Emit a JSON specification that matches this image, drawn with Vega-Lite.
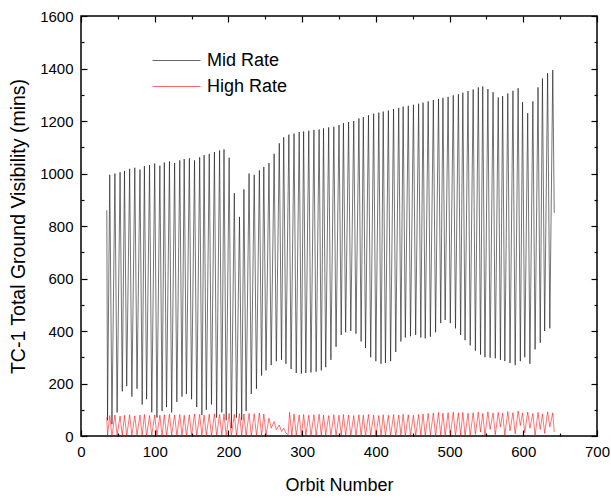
{
"$schema":"https://vega.github.io/schema/vega-lite/v6.json",
"width":516,"height":420,
"autosize":"none",
"padding":{"left":81,"top":16,"right":14,"bottom":63},
"background":"white",
"config":{"font":"Liberation Sans","view":{"stroke":"black","strokeWidth":1.5},
"axis":{"grid":false,"domain":false,"tickColor":"black","tickWidth":1.2,"labelColor":"black","titleColor":"black","labelFont":"Liberation Sans","titleFont":"Liberation Sans","titleFontWeight":"normal","labelFlush":false,"labelOverlap":false}},
"data":{"values":[
{"series":"Mid Rate","orbit":35,"value":860},{"series":"Mid Rate","orbit":36,"value":60},
{"series":"Mid Rate","orbit":39,"value":995},{"series":"Mid Rate","orbit":42,"value":45},
{"series":"Mid Rate","orbit":46,"value":1000},{"series":"Mid Rate","orbit":49,"value":90},
{"series":"Mid Rate","orbit":53,"value":1005},{"series":"Mid Rate","orbit":56,"value":170},
{"series":"Mid Rate","orbit":59,"value":1010},{"series":"Mid Rate","orbit":62,"value":190},
{"series":"Mid Rate","orbit":66,"value":1018},{"series":"Mid Rate","orbit":69,"value":150},
{"series":"Mid Rate","orbit":73,"value":1022},{"series":"Mid Rate","orbit":76,"value":180},
{"series":"Mid Rate","orbit":80,"value":1015},{"series":"Mid Rate","orbit":83,"value":120},
{"series":"Mid Rate","orbit":86,"value":1028},{"series":"Mid Rate","orbit":89,"value":140},
{"series":"Mid Rate","orbit":93,"value":1032},{"series":"Mid Rate","orbit":96,"value":90},
{"series":"Mid Rate","orbit":100,"value":1038},{"series":"Mid Rate","orbit":103,"value":70},
{"series":"Mid Rate","orbit":107,"value":1030},{"series":"Mid Rate","orbit":110,"value":95},
{"series":"Mid Rate","orbit":113,"value":1042},{"series":"Mid Rate","orbit":116,"value":110},
{"series":"Mid Rate","orbit":120,"value":1046},{"series":"Mid Rate","orbit":123,"value":90},
{"series":"Mid Rate","orbit":127,"value":1040},{"series":"Mid Rate","orbit":130,"value":130},
{"series":"Mid Rate","orbit":134,"value":1050},{"series":"Mid Rate","orbit":137,"value":150},
{"series":"Mid Rate","orbit":140,"value":1055},{"series":"Mid Rate","orbit":143,"value":160},
{"series":"Mid Rate","orbit":147,"value":1058},{"series":"Mid Rate","orbit":150,"value":140},
{"series":"Mid Rate","orbit":154,"value":1050},{"series":"Mid Rate","orbit":157,"value":110},
{"series":"Mid Rate","orbit":161,"value":1062},{"series":"Mid Rate","orbit":164,"value":80},
{"series":"Mid Rate","orbit":167,"value":1070},{"series":"Mid Rate","orbit":170,"value":100},
{"series":"Mid Rate","orbit":174,"value":1075},{"series":"Mid Rate","orbit":177,"value":120},
{"series":"Mid Rate","orbit":181,"value":1082},{"series":"Mid Rate","orbit":184,"value":70},
{"series":"Mid Rate","orbit":188,"value":1088},{"series":"Mid Rate","orbit":191,"value":90},
{"series":"Mid Rate","orbit":194,"value":1092},{"series":"Mid Rate","orbit":197,"value":60},
{"series":"Mid Rate","orbit":201,"value":1060},{"series":"Mid Rate","orbit":204,"value":30},
{"series":"Mid Rate","orbit":208,"value":925},{"series":"Mid Rate","orbit":211,"value":70},
{"series":"Mid Rate","orbit":215,"value":835},{"series":"Mid Rate","orbit":218,"value":60},
{"series":"Mid Rate","orbit":221,"value":940},{"series":"Mid Rate","orbit":224,"value":95},
{"series":"Mid Rate","orbit":228,"value":1000},{"series":"Mid Rate","orbit":231,"value":160},
{"series":"Mid Rate","orbit":235,"value":995},{"series":"Mid Rate","orbit":238,"value":180},
{"series":"Mid Rate","orbit":242,"value":1012},{"series":"Mid Rate","orbit":245,"value":230},
{"series":"Mid Rate","orbit":248,"value":1025},{"series":"Mid Rate","orbit":251,"value":250},
{"series":"Mid Rate","orbit":255,"value":1040},{"series":"Mid Rate","orbit":258,"value":270},
{"series":"Mid Rate","orbit":262,"value":1075},{"series":"Mid Rate","orbit":265,"value":285},
{"series":"Mid Rate","orbit":269,"value":1115},{"series":"Mid Rate","orbit":272,"value":290},
{"series":"Mid Rate","orbit":275,"value":1138},{"series":"Mid Rate","orbit":278,"value":275},
{"series":"Mid Rate","orbit":282,"value":1148},{"series":"Mid Rate","orbit":285,"value":255},
{"series":"Mid Rate","orbit":289,"value":1152},{"series":"Mid Rate","orbit":292,"value":240},
{"series":"Mid Rate","orbit":296,"value":1158},{"series":"Mid Rate","orbit":299,"value":238},
{"series":"Mid Rate","orbit":302,"value":1160},{"series":"Mid Rate","orbit":305,"value":240},
{"series":"Mid Rate","orbit":309,"value":1163},{"series":"Mid Rate","orbit":312,"value":242},
{"series":"Mid Rate","orbit":316,"value":1166},{"series":"Mid Rate","orbit":319,"value":245},
{"series":"Mid Rate","orbit":323,"value":1168},{"series":"Mid Rate","orbit":326,"value":250},
{"series":"Mid Rate","orbit":329,"value":1172},{"series":"Mid Rate","orbit":332,"value":262},
{"series":"Mid Rate","orbit":336,"value":1176},{"series":"Mid Rate","orbit":339,"value":290},
{"series":"Mid Rate","orbit":343,"value":1178},{"series":"Mid Rate","orbit":346,"value":340},
{"series":"Mid Rate","orbit":350,"value":1185},{"series":"Mid Rate","orbit":353,"value":385},
{"series":"Mid Rate","orbit":356,"value":1192},{"series":"Mid Rate","orbit":359,"value":395},
{"series":"Mid Rate","orbit":363,"value":1196},{"series":"Mid Rate","orbit":366,"value":400},
{"series":"Mid Rate","orbit":370,"value":1200},{"series":"Mid Rate","orbit":373,"value":390},
{"series":"Mid Rate","orbit":377,"value":1210},{"series":"Mid Rate","orbit":380,"value":360},
{"series":"Mid Rate","orbit":383,"value":1215},{"series":"Mid Rate","orbit":386,"value":335},
{"series":"Mid Rate","orbit":390,"value":1222},{"series":"Mid Rate","orbit":393,"value":300},
{"series":"Mid Rate","orbit":397,"value":1228},{"series":"Mid Rate","orbit":400,"value":285},
{"series":"Mid Rate","orbit":404,"value":1232},{"series":"Mid Rate","orbit":407,"value":275},
{"series":"Mid Rate","orbit":410,"value":1236},{"series":"Mid Rate","orbit":413,"value":278},
{"series":"Mid Rate","orbit":417,"value":1240},{"series":"Mid Rate","orbit":420,"value":285},
{"series":"Mid Rate","orbit":424,"value":1246},{"series":"Mid Rate","orbit":427,"value":320},
{"series":"Mid Rate","orbit":431,"value":1250},{"series":"Mid Rate","orbit":434,"value":360},
{"series":"Mid Rate","orbit":437,"value":1255},{"series":"Mid Rate","orbit":440,"value":375},
{"series":"Mid Rate","orbit":444,"value":1258},{"series":"Mid Rate","orbit":447,"value":380},
{"series":"Mid Rate","orbit":451,"value":1262},{"series":"Mid Rate","orbit":454,"value":385},
{"series":"Mid Rate","orbit":458,"value":1266},{"series":"Mid Rate","orbit":461,"value":375},
{"series":"Mid Rate","orbit":464,"value":1270},{"series":"Mid Rate","orbit":467,"value":372},
{"series":"Mid Rate","orbit":471,"value":1275},{"series":"Mid Rate","orbit":474,"value":378},
{"series":"Mid Rate","orbit":478,"value":1280},{"series":"Mid Rate","orbit":481,"value":395},
{"series":"Mid Rate","orbit":485,"value":1284},{"series":"Mid Rate","orbit":488,"value":430},
{"series":"Mid Rate","orbit":491,"value":1288},{"series":"Mid Rate","orbit":494,"value":442},
{"series":"Mid Rate","orbit":498,"value":1292},{"series":"Mid Rate","orbit":501,"value":430},
{"series":"Mid Rate","orbit":505,"value":1298},{"series":"Mid Rate","orbit":508,"value":410},
{"series":"Mid Rate","orbit":512,"value":1302},{"series":"Mid Rate","orbit":515,"value":385},
{"series":"Mid Rate","orbit":518,"value":1308},{"series":"Mid Rate","orbit":521,"value":365},
{"series":"Mid Rate","orbit":525,"value":1314},{"series":"Mid Rate","orbit":528,"value":345},
{"series":"Mid Rate","orbit":532,"value":1320},{"series":"Mid Rate","orbit":535,"value":325},
{"series":"Mid Rate","orbit":539,"value":1328},{"series":"Mid Rate","orbit":542,"value":310},
{"series":"Mid Rate","orbit":545,"value":1332},{"series":"Mid Rate","orbit":548,"value":300},
{"series":"Mid Rate","orbit":552,"value":1322},{"series":"Mid Rate","orbit":555,"value":298},
{"series":"Mid Rate","orbit":559,"value":1310},{"series":"Mid Rate","orbit":562,"value":296},
{"series":"Mid Rate","orbit":566,"value":1290},{"series":"Mid Rate","orbit":569,"value":290},
{"series":"Mid Rate","orbit":572,"value":1295},{"series":"Mid Rate","orbit":575,"value":285},
{"series":"Mid Rate","orbit":579,"value":1305},{"series":"Mid Rate","orbit":582,"value":278},
{"series":"Mid Rate","orbit":586,"value":1315},{"series":"Mid Rate","orbit":589,"value":270},
{"series":"Mid Rate","orbit":593,"value":1325},{"series":"Mid Rate","orbit":596,"value":285},
{"series":"Mid Rate","orbit":599,"value":1272},{"series":"Mid Rate","orbit":602,"value":300},
{"series":"Mid Rate","orbit":606,"value":1230},{"series":"Mid Rate","orbit":609,"value":275},
{"series":"Mid Rate","orbit":613,"value":1275},{"series":"Mid Rate","orbit":616,"value":330},
{"series":"Mid Rate","orbit":620,"value":1328},{"series":"Mid Rate","orbit":623,"value":355},
{"series":"Mid Rate","orbit":626,"value":1362},{"series":"Mid Rate","orbit":629,"value":400},
{"series":"Mid Rate","orbit":633,"value":1382},{"series":"Mid Rate","orbit":636,"value":410},
{"series":"Mid Rate","orbit":640,"value":1394},{"series":"Mid Rate","orbit":642,"value":850},
{"series":"High Rate","orbit":35,"value":72},{"series":"High Rate","orbit":36,"value":2},
{"series":"High Rate","orbit":39,"value":78},{"series":"High Rate","orbit":42,"value":0},
{"series":"High Rate","orbit":46,"value":80},{"series":"High Rate","orbit":49,"value":3},
{"series":"High Rate","orbit":53,"value":76},{"series":"High Rate","orbit":56,"value":1},
{"series":"High Rate","orbit":59,"value":79},{"series":"High Rate","orbit":62,"value":0},
{"series":"High Rate","orbit":66,"value":81},{"series":"High Rate","orbit":69,"value":2},
{"series":"High Rate","orbit":73,"value":77},{"series":"High Rate","orbit":76,"value":4},
{"series":"High Rate","orbit":80,"value":80},{"series":"High Rate","orbit":83,"value":1},
{"series":"High Rate","orbit":86,"value":82},{"series":"High Rate","orbit":89,"value":0},
{"series":"High Rate","orbit":93,"value":78},{"series":"High Rate","orbit":96,"value":3},
{"series":"High Rate","orbit":100,"value":80},{"series":"High Rate","orbit":103,"value":2},
{"series":"High Rate","orbit":107,"value":79},{"series":"High Rate","orbit":110,"value":0},
{"series":"High Rate","orbit":113,"value":81},{"series":"High Rate","orbit":116,"value":1},
{"series":"High Rate","orbit":120,"value":83},{"series":"High Rate","orbit":123,"value":3},
{"series":"High Rate","orbit":127,"value":80},{"series":"High Rate","orbit":130,"value":0},
{"series":"High Rate","orbit":134,"value":82},{"series":"High Rate","orbit":137,"value":2},
{"series":"High Rate","orbit":140,"value":79},{"series":"High Rate","orbit":143,"value":1},
{"series":"High Rate","orbit":147,"value":81},{"series":"High Rate","orbit":150,"value":0},
{"series":"High Rate","orbit":154,"value":84},{"series":"High Rate","orbit":157,"value":3},
{"series":"High Rate","orbit":161,"value":82},{"series":"High Rate","orbit":164,"value":2},
{"series":"High Rate","orbit":167,"value":80},{"series":"High Rate","orbit":170,"value":1},
{"series":"High Rate","orbit":174,"value":83},{"series":"High Rate","orbit":177,"value":0},
{"series":"High Rate","orbit":181,"value":85},{"series":"High Rate","orbit":184,"value":2},
{"series":"High Rate","orbit":188,"value":82},{"series":"High Rate","orbit":191,"value":4},
{"series":"High Rate","orbit":194,"value":84},{"series":"High Rate","orbit":197,"value":1},
{"series":"High Rate","orbit":201,"value":86},{"series":"High Rate","orbit":204,"value":0},
{"series":"High Rate","orbit":208,"value":83},{"series":"High Rate","orbit":211,"value":3},
{"series":"High Rate","orbit":215,"value":85},{"series":"High Rate","orbit":218,"value":2},
{"series":"High Rate","orbit":221,"value":84},{"series":"High Rate","orbit":224,"value":1},
{"series":"High Rate","orbit":228,"value":86},{"series":"High Rate","orbit":231,"value":0},
{"series":"High Rate","orbit":235,"value":85},{"series":"High Rate","orbit":238,"value":2},
{"series":"High Rate","orbit":242,"value":87},{"series":"High Rate","orbit":245,"value":1},
{"series":"High Rate","orbit":248,"value":84},{"series":"High Rate","orbit":251,"value":3},
{"series":"High Rate","orbit":255,"value":68},{"series":"High Rate","orbit":258,"value":30},
{"series":"High Rate","orbit":262,"value":55},{"series":"High Rate","orbit":265,"value":24},
{"series":"High Rate","orbit":269,"value":42},{"series":"High Rate","orbit":272,"value":17},
{"series":"High Rate","orbit":275,"value":30},{"series":"High Rate","orbit":278,"value":11},
{"series":"High Rate","orbit":281,"value":5},
{"series":"High Rate","orbit":283,"value":90},{"series":"High Rate","orbit":286,"value":1},
{"series":"High Rate","orbit":289,"value":84},{"series":"High Rate","orbit":292,"value":2},
{"series":"High Rate","orbit":296,"value":80},{"series":"High Rate","orbit":299,"value":0},
{"series":"High Rate","orbit":302,"value":82},{"series":"High Rate","orbit":305,"value":3},
{"series":"High Rate","orbit":309,"value":79},{"series":"High Rate","orbit":312,"value":1},
{"series":"High Rate","orbit":316,"value":81},{"series":"High Rate","orbit":319,"value":0},
{"series":"High Rate","orbit":323,"value":83},{"series":"High Rate","orbit":326,"value":2},
{"series":"High Rate","orbit":329,"value":80},{"series":"High Rate","orbit":332,"value":4},
{"series":"High Rate","orbit":336,"value":78},{"series":"High Rate","orbit":339,"value":1},
{"series":"High Rate","orbit":343,"value":81},{"series":"High Rate","orbit":346,"value":0},
{"series":"High Rate","orbit":350,"value":79},{"series":"High Rate","orbit":353,"value":2},
{"series":"High Rate","orbit":356,"value":82},{"series":"High Rate","orbit":359,"value":3},
{"series":"High Rate","orbit":363,"value":80},{"series":"High Rate","orbit":366,"value":0},
{"series":"High Rate","orbit":370,"value":78},{"series":"High Rate","orbit":373,"value":1},
{"series":"High Rate","orbit":377,"value":81},{"series":"High Rate","orbit":380,"value":2},
{"series":"High Rate","orbit":383,"value":79},{"series":"High Rate","orbit":386,"value":0},
{"series":"High Rate","orbit":390,"value":82},{"series":"High Rate","orbit":393,"value":3},
{"series":"High Rate","orbit":397,"value":80},{"series":"High Rate","orbit":400,"value":1},
{"series":"High Rate","orbit":404,"value":78},{"series":"High Rate","orbit":407,"value":0},
{"series":"High Rate","orbit":410,"value":81},{"series":"High Rate","orbit":413,"value":2},
{"series":"High Rate","orbit":417,"value":79},{"series":"High Rate","orbit":420,"value":1},
{"series":"High Rate","orbit":424,"value":82},{"series":"High Rate","orbit":427,"value":0},
{"series":"High Rate","orbit":431,"value":80},{"series":"High Rate","orbit":434,"value":3},
{"series":"High Rate","orbit":437,"value":83},{"series":"High Rate","orbit":440,"value":1},
{"series":"High Rate","orbit":444,"value":81},{"series":"High Rate","orbit":447,"value":2},
{"series":"High Rate","orbit":451,"value":79},{"series":"High Rate","orbit":454,"value":0},
{"series":"High Rate","orbit":458,"value":82},{"series":"High Rate","orbit":461,"value":2},
{"series":"High Rate","orbit":464,"value":84},{"series":"High Rate","orbit":467,"value":1},
{"series":"High Rate","orbit":471,"value":86},{"series":"High Rate","orbit":474,"value":3},
{"series":"High Rate","orbit":478,"value":88},{"series":"High Rate","orbit":481,"value":0},
{"series":"High Rate","orbit":485,"value":90},{"series":"High Rate","orbit":488,"value":2},
{"series":"High Rate","orbit":491,"value":87},{"series":"High Rate","orbit":494,"value":1},
{"series":"High Rate","orbit":498,"value":89},{"series":"High Rate","orbit":501,"value":4},
{"series":"High Rate","orbit":505,"value":91},{"series":"High Rate","orbit":508,"value":0},
{"series":"High Rate","orbit":512,"value":88},{"series":"High Rate","orbit":515,"value":3},
{"series":"High Rate","orbit":518,"value":90},{"series":"High Rate","orbit":521,"value":1},
{"series":"High Rate","orbit":525,"value":87},{"series":"High Rate","orbit":528,"value":2},
{"series":"High Rate","orbit":532,"value":89},{"series":"High Rate","orbit":535,"value":6},
{"series":"High Rate","orbit":539,"value":91},{"series":"High Rate","orbit":542,"value":15},
{"series":"High Rate","orbit":545,"value":86},{"series":"High Rate","orbit":548,"value":2},
{"series":"High Rate","orbit":552,"value":92},{"series":"High Rate","orbit":555,"value":25},
{"series":"High Rate","orbit":559,"value":88},{"series":"High Rate","orbit":562,"value":5},
{"series":"High Rate","orbit":566,"value":90},{"series":"High Rate","orbit":569,"value":35},
{"series":"High Rate","orbit":572,"value":87},{"series":"High Rate","orbit":575,"value":3},
{"series":"High Rate","orbit":579,"value":93},{"series":"High Rate","orbit":582,"value":20},
{"series":"High Rate","orbit":586,"value":89},{"series":"High Rate","orbit":589,"value":8},
{"series":"High Rate","orbit":593,"value":95},{"series":"High Rate","orbit":596,"value":40},
{"series":"High Rate","orbit":599,"value":88},{"series":"High Rate","orbit":602,"value":12},
{"series":"High Rate","orbit":606,"value":91},{"series":"High Rate","orbit":609,"value":30},
{"series":"High Rate","orbit":613,"value":86},{"series":"High Rate","orbit":616,"value":2},
{"series":"High Rate","orbit":620,"value":90},{"series":"High Rate","orbit":623,"value":25},
{"series":"High Rate","orbit":626,"value":84},{"series":"High Rate","orbit":629,"value":10},
{"series":"High Rate","orbit":633,"value":92},{"series":"High Rate","orbit":636,"value":35},
{"series":"High Rate","orbit":640,"value":88},{"series":"High Rate","orbit":642,"value":15}
]},
"resolve":{"axis":{"x":"independent","y":"independent"}},
"layer":[
{"transform":[{"filter":"datum.series === 'Mid Rate'"}],
"mark":{"type":"line","strokeWidth":0.55},
"encoding":{
"x":{"field":"orbit","type":"quantitative","scale":{"domain":[0,700],"nice":false,"zero":false},
"axis":{"orient":"bottom","values":[0,50,100,150,200,250,300,350,400,450,500,550,600,650,700],"labelExpr":"datum.value % 100 === 0 ? datum.label : ''","tickSize":{"condition":{"test":"datum.value % 100 === 0","value":-6},"value":-3},"labelPadding":14,"labelFontSize":15,"title":"Orbit Number","titleFontSize":18,"titlePadding":14}},
"y":{"field":"value","type":"quantitative","scale":{"domain":[0,1600],"nice":false},
"axis":{"orient":"left","values":[0,100,200,300,400,500,600,700,800,900,1000,1100,1200,1300,1400,1500,1600],"labelExpr":"datum.value % 200 === 0 ? datum.label : ''","format":"d","tickSize":{"condition":{"test":"datum.value % 200 === 0","value":-6},"value":-3},"labelPadding":14,"labelFontSize":15,"title":"TC-1 Total Ground Visibility (mins)","titleFontSize":19.5,"titlePadding":11}},
"color":{"field":"series","type":"nominal","scale":{"domain":["Mid Rate","High Rate"],"range":["#000000","#ff0000"]},
"legend":{"orient":"none","legendX":83,"legendY":32,"title":null,"padding":0,"rowPadding":4,"symbolType":"M-2,0L2,0","symbolSize":576,"symbolStrokeWidth":0.6,"labelFontSize":18,"labelFont":"Liberation Sans","labelColor":"black","labelOffset":18}}
}},
{"transform":[{"filter":"datum.series === 'High Rate'"}],
"mark":{"type":"line","strokeWidth":0.55},
"encoding":{
"x":{"field":"orbit","type":"quantitative",
"axis":{"orient":"top","values":[0,50,100,150,200,250,300,350,400,450,500,550,600,650,700],"labels":false,"tickSize":{"condition":{"test":"datum.value % 100 === 0","value":-6},"value":-3},"title":null}},
"y":{"field":"value","type":"quantitative",
"axis":{"orient":"right","values":[0,100,200,300,400,500,600,700,800,900,1000,1100,1200,1300,1400,1500,1600],"labels":false,"tickSize":{"condition":{"test":"datum.value % 200 === 0","value":-6},"value":-3},"title":null}},
"color":{"field":"series","type":"nominal"}
}}
]
}
